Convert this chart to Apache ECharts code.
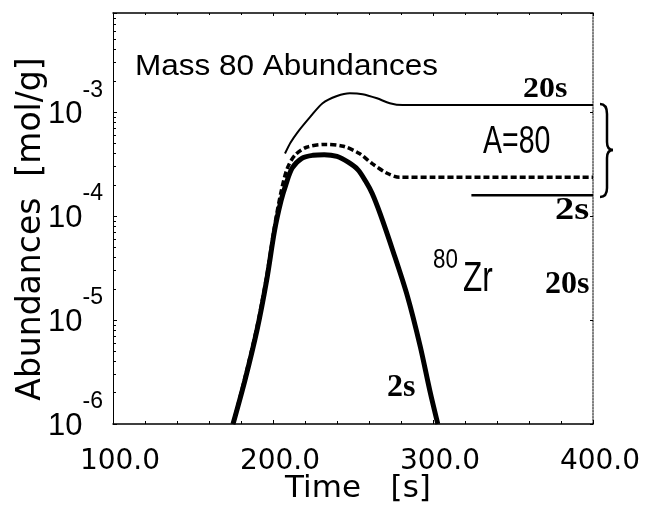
<!DOCTYPE html>
<html>
<head>
<meta charset="utf-8">
<script src="https://cdn.jsdelivr.net/npm/echarts@6/dist/echarts.min.js"></script>
<style>
  html, body { margin: 0; padding: 0; background: #fff; }
  #echarts { width: 646px; height: 508px; }
</style>
</head>
<body>
<div id="echarts"></div>
<script>
// time [s], abundance [mol/g]
var total20s = [
  [207.5, 4.0e-4], [211, 5.1e-4], [215, 6.3e-4], [223, 8.9e-4], [231, 1.22e-3],
  [240, 1.43e-3], [248, 1.52e-3], [256, 1.49e-3], [265, 1.36e-3], [273, 1.22e-3],
  [281, 1.17e-3], [300, 1.17e-3], [400, 1.17e-3]
];
var total2sDashed = [
  [175, 1e-6], [182.5, 2.8e-6], [190, 8.6e-6], [196, 2.6e-5], [201, 8e-5],
  [205, 1.7e-4], [209, 2.9e-4], [214, 3.9e-4], [221, 4.6e-4], [233, 4.9e-4],
  [244, 4.7e-4], [254, 4.0e-4], [262, 3.2e-4], [271, 2.6e-4], [279, 2.37e-4],
  [300, 2.37e-4], [400, 2.37e-4]
];
var zr2s = [
  [175, 1e-6], [182.5, 2.65e-6], [190, 8e-6], [196, 2.4e-5], [201, 7.3e-5],
  [205, 1.4e-4], [208, 2.0e-4], [212, 2.9e-4], [218, 3.6e-4], [225, 3.85e-4],
  [232, 3.9e-4], [240, 3.75e-4], [247, 3.3e-4], [253, 2.8e-4], [258, 2.15e-4],
  [262, 1.65e-4], [267, 1.05e-4], [275, 4.6e-5], [284, 1.7e-5], [292, 5.6e-6],
  [298, 2.1e-6], [303, 1e-6]
];
var total2sLow = [[324, 1.59e-4], [400, 1.59e-4]];

var xTicks = [100, 200, 300, 400];
var yDecades = [-6, -5, -4, -3];

var myChart = echarts.init(document.getElementById('echarts'));

function yLabel(v) {
  var e = Math.round(Math.log10(v));
  if (Math.abs(Math.log10(v) - e) > 1e-6 || yDecades.indexOf(e) < 0) return '';
  return '{b|10}{s|' + e + '}';
}

// right-hand brace
var braceStyle = { fill: 'none', stroke: '#000', lineWidth: 2.5 };
var brace = [
  { type: 'bezierCurve', shape: { x1: 600, y1: 104, cpx1: 607, cpy1: 104, x2: 607, y2: 114 }, style: braceStyle },
  { type: 'line', shape: { x1: 607, y1: 114, x2: 607, y2: 142 }, style: braceStyle },
  { type: 'bezierCurve', shape: { x1: 607, y1: 142, cpx1: 607, cpy1: 150, x2: 613, y2: 150 }, style: braceStyle },
  { type: 'bezierCurve', shape: { x1: 613, y1: 150, cpx1: 607, cpy1: 150, x2: 607, y2: 158 }, style: braceStyle },
  { type: 'line', shape: { x1: 607, y1: 158, x2: 607, y2: 188 }, style: braceStyle },
  { type: 'bezierCurve', shape: { x1: 607, y1: 188, cpx1: 607, cpy1: 197, x2: 600, y2: 197 }, style: braceStyle }
];

var option = {
  backgroundColor: '#fff',
  animation: false,
  grid: { left: 113, right: 53, top: 13, bottom: 84, outerBoundsMode: 'none' },
  xAxis: [{
    type: 'value', min: 100, max: 400, interval: 100,
    name: 'Time   [s]', nameLocation: 'middle', nameGap: 49, nameMoveOverlap: false,
    nameTextStyle: { fontFamily: 'DejaVu Sans', fontSize: 31, color: '#000', padding: [0, 0, 0, 10] },
    axisLine: { show: true, lineStyle: { color: '#000', width: 1.5 } },
    axisTick: { show: true, inside: true, length: 4, lineStyle: { color: '#000' } },
    minorTick: { show: true, splitNumber: 5, length: 3, lineStyle: { color: '#000' } },
    axisLabel: {
      margin: 24, fontFamily: 'DejaVu Sans', fontSize: 28, color: '#000', padding: [0, 0, 0, 14],
      formatter: function (v) { return xTicks.indexOf(v) >= 0 ? v.toFixed(1) : ''; }
    },
    splitLine: { show: false }
  }, {
    type: 'value', min: 100, max: 400, interval: 100, position: 'top',
    axisLine: { show: true, lineStyle: { color: '#000', width: 1.5 } },
    axisTick: { show: true, inside: true, length: 3, lineStyle: { color: '#000' } },
    minorTick: { show: true, splitNumber: 5, length: 2, lineStyle: { color: '#000' } },
    axisLabel: { show: false },
    splitLine: { show: false }
  }],
  yAxis: [{
    type: 'log', logBase: 10, min: 1e-6, max: 9e-3, splitNumber: 4,
    name: 'Abundances  [mol/g]', nameLocation: 'middle', nameGap: 65, nameMoveOverlap: false,
    nameTextStyle: { fontFamily: 'DejaVu Sans', fontSize: 33, color: '#000', padding: [0, 21, 0, 0] },
    axisLine: { show: true, lineStyle: { color: '#000', width: 1 } },
    axisTick: { show: true, inside: true, length: 4, lineStyle: { color: '#000' } },
    minorTick: { show: true, splitNumber: 9, length: 3, lineStyle: { color: '#000' } },
    axisLabel: {
      margin: 10, color: '#000', formatter: yLabel,
      rich: {
        b: { fontFamily: 'Liberation Sans', fontSize: 31, color: '#000', padding: [5, 0, 0, 0] },
        s: { fontFamily: 'Liberation Sans', fontSize: 23, color: '#000', padding: [0, 0, 44, 0] }
      }
    },
    splitLine: { show: false }
  }, {
    type: 'log', logBase: 10, min: 1e-6, max: 9e-3, splitNumber: 4, position: 'right',
    axisLine: { show: true, lineStyle: { color: '#555', width: 1.5, type: 'dotted' } },
    axisTick: { show: true, inside: true, length: 3, lineStyle: { color: '#000' } },
    axisLabel: { show: false },
    splitLine: { show: false }
  }],
  series: [{
    name: 'A=80 20s', type: 'line', data: total20s, smooth: 0.3, showSymbol: false,
    lineStyle: { color: '#000', width: 2 }
  }, {
    name: 'A=80 2s', type: 'line', data: total2sDashed, smooth: 0.3, showSymbol: false,
    lineStyle: { color: '#000', width: 3.5, type: [6, 3] }
  }, {
    name: 'A=80 2s low', type: 'line', data: total2sLow, showSymbol: false,
    lineStyle: { color: '#000', width: 2.5 }
  }, {
    name: '80Zr 2s', type: 'line', data: zr2s, smooth: 0.3, showSymbol: false,
    lineStyle: { color: '#000', width: 5 }
  }],
  graphic: [
    { type: 'text', x: 135, y: 67, scaleX: 1.05, style: { text: 'Mass 80 Abundances', font: '30px "Liberation Sans"', fill: '#000', verticalAlign: 'middle' } },
    { type: 'text', x: 523, y: 90, scaleX: 1.1, style: { text: '20s', font: 'bold 29px "Liberation Serif"', fill: '#000', verticalAlign: 'middle' } },
    { type: 'text', x: 483, y: 143, scaleX: 0.75, style: { text: 'A=80', font: '38px "Liberation Sans"', fill: '#000', verticalAlign: 'middle' } },
    { type: 'text', x: 555, y: 211, scaleX: 1.2, style: { text: '2s', font: 'bold 32px "Liberation Serif"', fill: '#000', verticalAlign: 'middle' } },
    { type: 'text', x: 433, y: 260, scaleX: 0.8, style: { text: '80', font: '28px "Liberation Sans"', fill: '#000', verticalAlign: 'middle' } },
    { type: 'text', x: 463, y: 279, scaleX: 0.75, style: { text: 'Zr', font: '42px "Liberation Sans"', fill: '#000', verticalAlign: 'middle' } },
    { type: 'text', x: 545, y: 285, style: { text: '20s', font: 'bold 32px "Liberation Serif"', fill: '#000', verticalAlign: 'middle' } },
    { type: 'text', x: 387, y: 388, style: { text: '2s', font: 'bold 32px "Liberation Serif"', fill: '#000', verticalAlign: 'middle' } }
  ].concat(brace)
};

myChart.setOption(option);
</script>
</body>
</html>
